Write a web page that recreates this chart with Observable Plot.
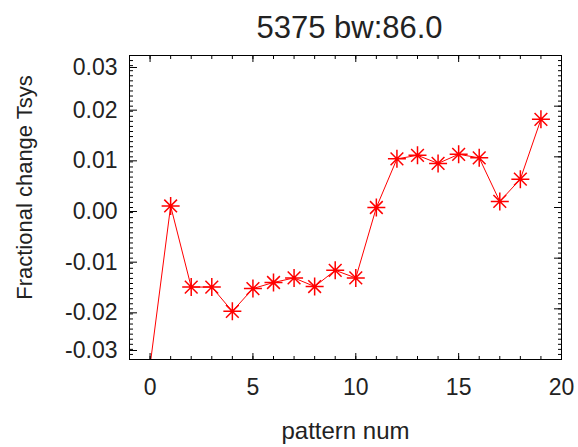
<!DOCTYPE html>
<html><head><meta charset="utf-8">
<script src="https://cdn.jsdelivr.net/npm/d3@7"></script>
<script src="https://cdn.jsdelivr.net/npm/@observablehq/plot@0.6"></script>
<style>body{margin:0;background:#fff;font-family:"Liberation Sans",Arial,sans-serif}</style>
</head><body><div id="chart"></div>
<script>
const titleText = "5375 bw:86.0";
const xLabel = "pattern num";
const yLabel = "Fractional change Tsys";
const patternNum = [0,1,2,3,4,5,6,7,8,9,10,11,12,13,14,15,16,17,18,19];
const fracChange = [-0.0312,0.0003,-0.0157,-0.0157,-0.0205,-0.0160,-0.0148,-0.0139,-0.0156,-0.0124,-0.0139,0.0000,0.0096,0.0103,0.0087,0.0105,0.0098,0.0012,0.0056,0.0174];
const xDomain = [-1, 20];
const yDomain = [-0.03, 0.03];
const xMajorTicks = [0,5,10,15,20];
const xMinorTicks = [0,1,2,3,4,5,6,7,8,9,10,11,12,13,14,15,16,17,18,19,20];
const yMajorTicks = [-0.02,-0.01,0,0.01,0.02];
const yEndTicksTop = [0.03];
const yEndTicksBottom = [-0.03];
const yMinorTicks = d3.range(-30, 31).map(i => i / 1000);

const rows = patternNum.map((p, i) => ({p, v: fracChange[i]}));
const visible = rows.filter(d => d.v >= yDomain[0] && d.v <= yDomain[1]);

const star8 = {draw(ctx, size) {
  const r = Math.sqrt(size / Math.PI), d = r * Math.SQRT1_2;
  ctx.moveTo(-r, 0); ctx.lineTo(r, 0);
  ctx.moveTo(0, -r); ctx.lineTo(0, r);
  ctx.moveTo(-d, -d); ctx.lineTo(d, d);
  ctx.moveTo(-d, d); ctx.lineTo(d, -d);
}};

const f2 = d3.format(".2f");
const fmt = v => f2(v).replace("\u2212", "-");
const txt = "#222";
const fs = 23;
const empty = () => "";

const chart = Plot.plot({
  width: 578, height: 447,
  marginLeft: 129, marginRight: 17, marginTop: 55, marginBottom: 88,
  style: {fontFamily: "'Liberation Sans', Arial, sans-serif", color: "black", background: "white"},
  x: {domain: xDomain},
  y: {domain: yDomain},
  marks: [
    Plot.line(rows, {x: "p", y: "v", stroke: "#ff0000", strokeWidth: 1, clip: true}),
    Plot.dot(visible, {x: "p", y: "v", symbol: star8, r: 9, stroke: "#ff0000", strokeWidth: 1.5, fill: "none"}),
    // bottom axis
    Plot.axisX(xMinorTicks, {anchor: "bottom", tickSize: -3, tickFormat: empty, label: null}),
    Plot.axisX(xMajorTicks, {anchor: "bottom", tickSize: -6, tickPadding: 25, fontSize: fs, fill: txt, label: null}),
    // top axis
    Plot.axisX(xMinorTicks, {anchor: "top", tickSize: -3, tickFormat: empty, label: null}),
    Plot.axisX(xMajorTicks, {anchor: "top", tickSize: -6, tickFormat: empty, label: null}),
    // left axis
    Plot.axisY(yMinorTicks, {anchor: "left", tickSize: -4, tickFormat: empty, label: null}),
    Plot.axisY(yMajorTicks, {anchor: "left", tickSize: -8, tickPadding: 20, dy: 4, fontSize: fs, fill: txt, tickFormat: fmt, label: null}),
    Plot.axisY(yEndTicksTop, {anchor: "left", tickSize: -8, tickPadding: 20, dy: 12, fontSize: fs, fill: txt, tickFormat: fmt, label: null}),
    Plot.axisY(yEndTicksBottom, {anchor: "left", tickSize: -8, tickPadding: 20, dy: -9, fontSize: fs, fill: txt, tickFormat: fmt, label: null}),
    // right axis
    Plot.axisY(yMinorTicks, {anchor: "right", tickSize: -4, tickFormat: empty, label: null}),
    Plot.axisY([...yEndTicksBottom, ...yMajorTicks, ...yEndTicksTop], {anchor: "right", tickSize: -8, tickFormat: empty, label: null}),
    Plot.frame({stroke: "black", strokeWidth: 1}),
    Plot.text([titleText], {frameAnchor: "top", dx: 4, dy: -18, lineAnchor: "bottom", fontSize: 31, fill: txt}),
    Plot.text([xLabel], {frameAnchor: "bottom", dy: 79, lineAnchor: "bottom", fontSize: 24, fill: txt}),
    Plot.text([yLabel], {frameAnchor: "left", textAnchor: "middle", rotate: -90, dx: -98, dy: -20, lineAnchor: "bottom", fontSize: 22, fill: txt})
  ]
});
document.getElementById("chart").appendChild(chart);
</script>
</body></html>
